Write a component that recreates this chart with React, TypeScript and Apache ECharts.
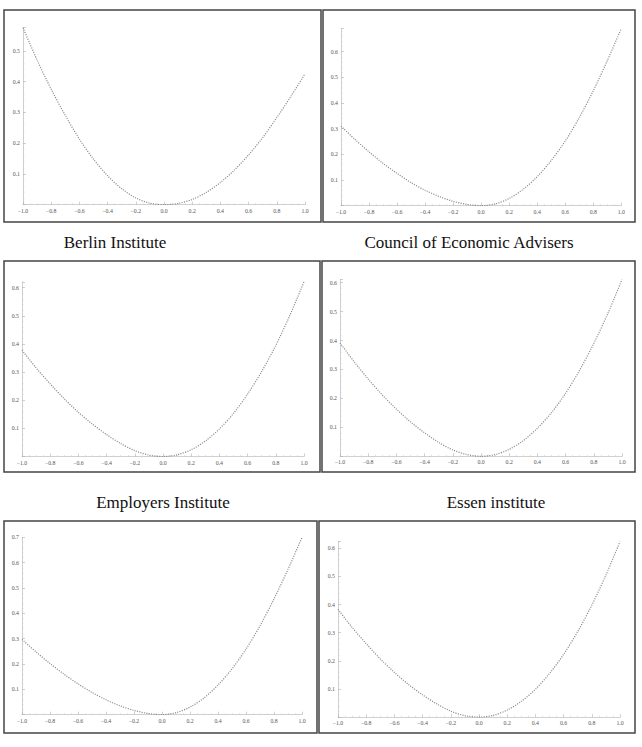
import React, { useEffect, useRef } from "react";
import * as echarts from "echarts";

const X = [-1.0, -0.9, -0.8, -0.7, -0.6, -0.5, -0.4, -0.3, -0.2, -0.1, 0.0, 0.1, 0.2, 0.3, 0.4, 0.5, 0.6, 0.7, 0.8, 0.9, 1.0];

const panel1 = [0.575, 0.47, 0.375, 0.29, 0.213, 0.148, 0.094, 0.052, 0.022, 0.005, 0.0, 0.004, 0.017, 0.04, 0.072, 0.113, 0.162, 0.218, 0.283, 0.352, 0.425];
const panel2 = [0.31, 0.258, 0.21, 0.165, 0.126, 0.09, 0.06, 0.036, 0.017, 0.005, 0.0, 0.007, 0.028, 0.064, 0.113, 0.176, 0.252, 0.343, 0.448, 0.565, 0.69];
const panel3 = [0.378, 0.315, 0.258, 0.205, 0.157, 0.115, 0.078, 0.046, 0.021, 0.005, 0.0, 0.006, 0.024, 0.055, 0.098, 0.153, 0.222, 0.302, 0.395, 0.502, 0.621];
const panel4 = [0.392, 0.327, 0.267, 0.212, 0.163, 0.119, 0.081, 0.048, 0.022, 0.006, 0.0, 0.006, 0.024, 0.054, 0.097, 0.151, 0.218, 0.298, 0.39, 0.494, 0.611];
const panel5 = [0.297, 0.248, 0.202, 0.16, 0.122, 0.088, 0.059, 0.035, 0.017, 0.005, 0.0, 0.008, 0.03, 0.066, 0.117, 0.181, 0.259, 0.351, 0.457, 0.574, 0.7];
const panel6 = [0.383, 0.319, 0.261, 0.207, 0.159, 0.116, 0.079, 0.047, 0.021, 0.005, 0.0, 0.006, 0.025, 0.056, 0.099, 0.155, 0.223, 0.304, 0.398, 0.505, 0.624];

const titles = ["Berlin Institute", "Council of Economic Advisers", "Employers Institute", "Essen institute"];

// layout (pixels)
const grids = [
  { left: 23, top: 27.7, width: 282, height: 177 },
  { left: 341, top: 28.6, width: 280.3, height: 177.1 },
  { left: 22, top: 281.8, width: 282, height: 174.7 },
  { left: 340, top: 279.5, width: 282, height: 176.8 },
  { left: 22, top: 537.4, width: 280, height: 177.3 },
  { left: 338, top: 541.6, width: 282, height: 175.5 },
];
const boxes = [
  { x: 4, y: 10, w: 317, h: 212 },
  { x: 323, y: 10, w: 312, h: 212 },
  { x: 4, y: 261, w: 316, h: 211 },
  { x: 322, y: 261, w: 313, h: 211 },
  { x: 4, y: 521, w: 313, h: 212 },
  { x: 319, y: 521, w: 316, h: 212 },
];
const titlePos = [
  { x: 115, y: 234 },
  { x: 469, y: 234 },
  { x: 163, y: 494 },
  { x: 496, y: 494 },
];

const panels = [panel1, panel2, panel3, panel4, panel5, panel6];

const fmtX = (v: number) => {
  if (Math.abs(v) < 1e-9) return "0.0";
  return v.toFixed(1).replace("-", "\u2212");
};
const fmtY = (v: number) => {
  if (Math.abs(v) < 1e-9) return "";
  if (Math.abs(v * 10 - Math.round(v * 10)) > 1e-6) return "";
  return v.toFixed(1);
};

export default function App() {
  const ref = useRef<HTMLDivElement>(null);
  useEffect(() => {
    if (!ref.current) return;
    const chart = echarts.init(ref.current, undefined, { renderer: "svg" });
    const axisLine = { show: true, onZero: false, lineStyle: { color: "#c4c4c4", width: 0.8 } };
    const labelStyle = { fontFamily: "Liberation Serif", fontSize: 5.8, color: "#555" };
    const option: any = {
      animation: false,
      backgroundColor: "#ffffff",
      title: titles.map((t, i) => ({
        text: t,
        left: titlePos[i].x,
        top: titlePos[i].y,
        textAlign: "center",
        padding: 0,
        textStyle: { fontFamily: "Liberation Serif", fontSize: 17, fontWeight: "normal", color: "#111" },
      })),
      grid: grids.map((g) => ({ left: g.left, top: g.top, width: g.width, height: g.height, containLabel: false })),
      xAxis: grids.map((_, i) => ({
        type: "value",
        gridIndex: i,
        min: -1,
        max: 1,
        interval: 0.2,
        axisLine,
        axisTick: { show: true, inside: true, length: 3, lineStyle: { color: "#b0b0b0", width: 0.6 } },
        minorTick: { show: true, splitNumber: 4, length: 1.5, lineStyle: { color: "#c8c8c8", width: 0.5 } },
        splitLine: { show: false },
        axisLabel: { ...labelStyle, margin: 3, formatter: fmtX, showMinLabel: true, showMaxLabel: true },
      })),
      yAxis: panels.map((p, i) => ({
        type: "value",
        gridIndex: i,
        min: 0,
        max: Math.max(...p),
        interval: 0.1,
        axisLine,
        axisTick: { show: true, inside: true, length: 3, lineStyle: { color: "#b0b0b0", width: 0.6 } },
        minorTick: { show: true, splitNumber: 5, length: 1.5, lineStyle: { color: "#c8c8c8", width: 0.5 } },
        splitLine: { show: false },
        axisLabel: { ...labelStyle, margin: 3, formatter: fmtY },
      })),
      series: panels.map((p, i) => ({
        type: "line",
        xAxisIndex: i,
        yAxisIndex: i,
        data: X.map((x, k) => [x, p[k]]),
        smooth: 0.3,
        symbol: "none",
        lineStyle: { color: "#8a8a8a", width: 1.2, type: [1.1, 1.3] },
      })),
      graphic: boxes.map((b) => ({
        type: "rect",
        shape: { x: b.x, y: b.y, width: b.w, height: b.h },
        style: { fill: "none", stroke: "#444", lineWidth: 1.5 },
        silent: true,
      })),
    };
    chart.setOption(option);
    return () => chart.dispose();
  }, []);
  return (
    <div
      ref={ref}
      style={{ position: "absolute", left: 0, top: 0, width: 642, height: 747, background: "#fff" }}
    />
  );
}
